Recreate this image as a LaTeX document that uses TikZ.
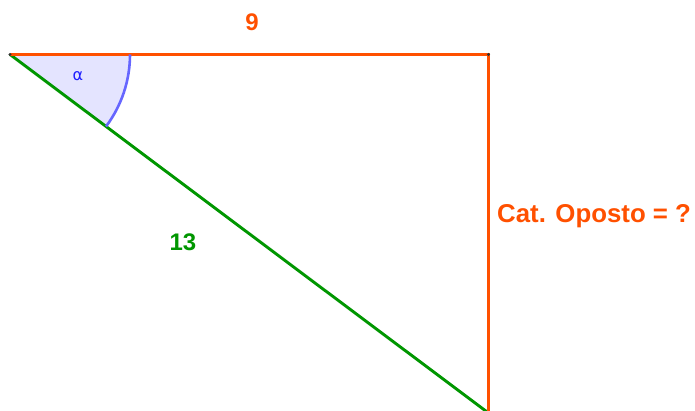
\documentclass[tikz,border=0pt]{standalone}
\usepackage{fontspec}
\setmainfont{Liberation Sans}
\newfontfamily\greekfont{DejaVu Sans}
\definecolor{ggorange}{RGB}{255,80,0}
\definecolor{gggreen}{RGB}{0,150,0}
\definecolor{ggblue}{RGB}{102,102,255}
\definecolor{ggfill}{RGB}{228,228,255}
\definecolor{ggtext}{RGB}{30,30,255}
\begin{document}
\begin{tikzpicture}[x=1pt,y=1pt,
  side/.style={line width=2.9pt},
  lbl/.style={font=\fontsize{24}{28}\selectfont\bfseries, inner sep=0pt},
  pt/.style={fill=black!80, draw=none}]
\useasboundingbox (0,0) rectangle (695,410);
\clip (0,0) rectangle (695,410);
\coordinate (A) at (10,355.5);
\coordinate (B) at (488.5,355.5);
\coordinate (C) at (488.5,-3);
% angle sector
\fill[ggfill] (A) -- ++(0:120) arc[start angle=0, end angle=-36.84, radius=120] -- cycle;
\draw[gggreen, side] (A) -- (C);
\draw[ggorange, side] (A) -- (B) -- (C);
\draw[ggblue, line width=2.6pt] (A) ++(0:120) arc[start angle=0, end angle=-36.84, radius=120];
\fill[pt] (A) circle (1.7);
\fill[pt] (B) circle (1.7);
\node[lbl, text=ggorange] (l9) at (252,388) {9};
\node[lbl, text=gggreen] (l13) at (183,168) {13};
\node[lbl, text=ggorange, anchor=west, font=\fontsize{25.8}{30}\selectfont\bfseries] (lop) at (497,194) {Cat. Oposto = ?};
\node[text=ggtext, inner sep=0pt, font=\greekfont\fontsize{16}{19}\selectfont] (alpha) at (78,334) {α};
\end{tikzpicture}
\end{document}
